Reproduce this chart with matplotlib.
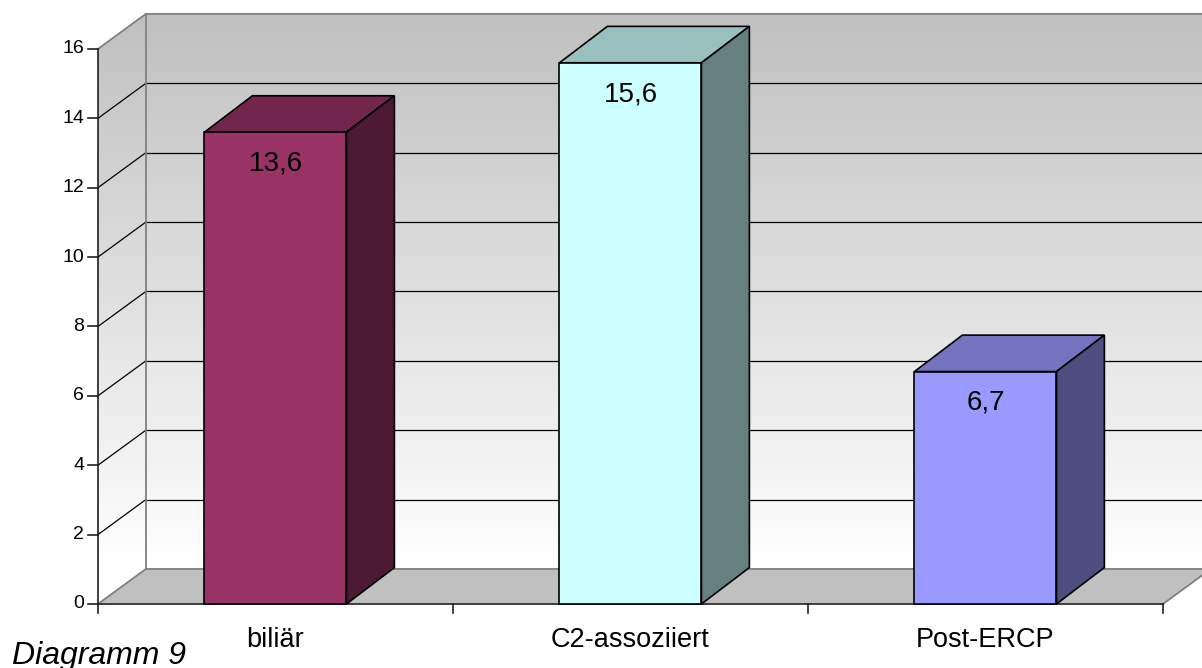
import numpy as np
import matplotlib
matplotlib.use("Agg")
import matplotlib.pyplot as plt
from matplotlib.patches import Polygon, Rectangle
from matplotlib.colors import LinearSegmentedColormap

plt.rcParams['font.family'] = ['Liberation Sans', 'DejaVu Sans']

# data
categories = ["biliär", "C2-assoziiert", "Post-ERCP"]
values = [13.6, 15.6, 6.7]
value_labels = ["13,6", "15,6", "6,7"]
yticks = [0, 2, 4, 6, 8, 10, 12, 14, 16]

# colours per bar: front, top, side
front_cols = ["#993366", "#ccffff", "#9999ff"]
top_cols = ["#73264d", "#99bfbf", "#7373bf"]
side_cols = ["#4d1a33", "#668080", "#4d4d80"]

# 3d look: depth offsets in data units
WALL_DX, WALL_DY = 0.135, 1.01
BAR_DX, BAR_DY = 0.135, 1.05
BAR_W = 0.4
YMAX = 16
XRIGHT = 3.2

fig = plt.figure(figsize=(12.02, 6.68), dpi=100)
ax = fig.add_axes([0, 0, 1, 1])
ax.set_xlim(-0.276, 3.110)
ax.set_ylim(-1.845, 17.41)
ax.axis('off')

# walls (side + back) with a grey-to-white gradient
wall = Polygon([(0, 0), (WALL_DX, WALL_DY), (XRIGHT, WALL_DY), (XRIGHT, YMAX + WALL_DY),
                (WALL_DX, YMAX + WALL_DY), (0, YMAX)], closed=True,
               facecolor='none', edgecolor='none')
ax.add_patch(wall)
cmap = LinearSegmentedColormap.from_list("wall", ["#ffffff", "#c0c0c0"])
vv = np.linspace(0, YMAX + WALL_DY, 300)
grad = np.clip((vv - WALL_DY) / YMAX, 0, 1).reshape(-1, 1)
im = ax.imshow(grad, cmap=cmap, origin='lower', aspect='auto', vmin=0, vmax=1,
               extent=(0, XRIGHT, 0, YMAX + WALL_DY), zorder=1)
im.set_clip_path(wall)

# floor
floor = Polygon([(0, 0), (3, 0), (3 + WALL_DX, WALL_DY), (XRIGHT + 0.2, WALL_DY),
                 (XRIGHT + 0.2, WALL_DY), (WALL_DX, WALL_DY)], closed=True,
                facecolor="#c0c0c0", edgecolor="none", zorder=2)
ax.add_patch(floor)

# gridlines on side and back wall
for t in yticks[1:-1]:
    ax.plot([0, WALL_DX], [t, t + WALL_DY], color="black", lw=0.9, zorder=3)
    ax.plot([WALL_DX, XRIGHT], [t + WALL_DY, t + WALL_DY], color="black", lw=0.9, zorder=3)

# wall / floor borders
edge = "#808080"
ax.plot([0, WALL_DX, XRIGHT], [YMAX, YMAX + WALL_DY, YMAX + WALL_DY], color=edge, lw=1.3, zorder=3)
ax.plot([WALL_DX, WALL_DX], [WALL_DY, YMAX + WALL_DY], color=edge, lw=1.3, zorder=3)
ax.plot([0, WALL_DX, XRIGHT], [0, WALL_DY, WALL_DY], color=edge, lw=1.3, zorder=3)
ax.plot([3, 3 + WALL_DX], [0, WALL_DY], color=edge, lw=1.3, zorder=3)
ax.plot([0, 3], [0, 0], color="#303030", lw=1.3, zorder=3)

# front value axis with ticks
ax.plot([0, 0], [-0.26, YMAX], color="#202020", lw=1.2, zorder=6)
for t in yticks:
    ax.plot([-0.028, 0], [t, t], color="#202020", lw=1.2, zorder=6)
    ax.text(-0.039, t, str(t), ha='right', va='center', fontsize=14, color="black")

# category ticks below the floor
for k in range(1, 4):
    ax.plot([k, k], [0, -0.26], color="#202020", lw=1.2, zorder=6)

# bars
for i, v in enumerate(values):
    x0 = i + 0.5 - BAR_W / 2
    x1 = x0 + BAR_W
    ax.add_patch(Rectangle((x0, 0), BAR_W, v, facecolor=front_cols[i],
                           edgecolor="black", lw=1.2, zorder=10))
    ax.add_patch(Polygon([(x0, v), (x1, v), (x1 + BAR_DX, v + BAR_DY), (x0 + BAR_DX, v + BAR_DY)],
                         closed=True, facecolor=top_cols[i], edgecolor="black", lw=1.2, zorder=9))
    ax.add_patch(Polygon([(x1, 0), (x1 + BAR_DX, BAR_DY), (x1 + BAR_DX, v + BAR_DY), (x1, v)],
                         closed=True, facecolor=side_cols[i], edgecolor="black", lw=1.2, zorder=9))
    ax.text(i + 0.5, v - 0.9, value_labels[i], ha='center', va='center',
            fontsize=20, color="black", zorder=11)
    ax.text(i + 0.5, -1.24, categories[i], ha='center', va='baseline',
            fontsize=19.5, color="black")

fig.text(0.01, 0.006, "Diagramm 9", ha='left', va='baseline',
         fontsize=23, style='italic', color="black")

fig.savefig("out.png", dpi=100)
